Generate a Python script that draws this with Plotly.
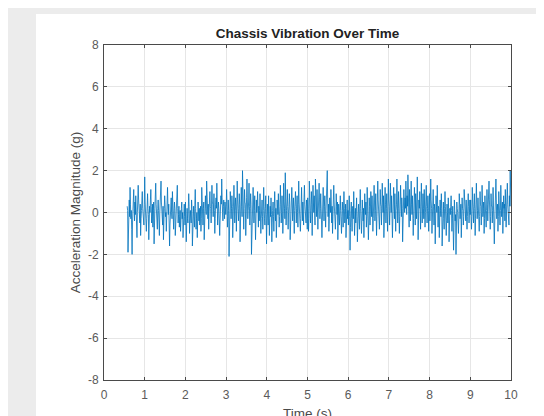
import numpy as np
import plotly.graph_objects as go

t_start = 0.57
t_end = 10.0

accel = [
    # 0.57 - 1.0 s
    0.3, 0.1, -1.9, -0.4, 0.2, 0.6, -0.2, 1.2, 0.4, -0.3, 0.1, -0.8, -2.0, -0.5, 0.3, 0.9, 1.1, 0.2, -0.4, 0.5,
    -0.1, 0.8, 0.3, -0.6, -1.2, 0.0, 0.4, 1.3, 0.6, -0.1, 0.2, -0.5, 0.4, -1.1, -0.3, 0.1, 0.7, 1.0, 0.2, -0.3,
    0.0, -0.6, 0.4,
    # 1 - 2 s
    1.7, 0.5, -0.2, 0.1, -0.9, -0.3, 0.4, 0.9, 0.2, -0.1, -1.3, -0.4, 0.3, 0.0, 0.6, 1.1, 0.3, -0.5, -0.2, 0.4,
    -0.7, 0.1, 0.5, -1.5, -0.6, 0.2, 0.8, 1.4, 0.4, -0.1, -0.4, -0.8, 0.2, 0.6, 0.1, -0.3, -1.1, 0.0, 0.7, 0.3,
    1.5, 0.5, -0.2, 0.1, -0.6, 0.3, -1.3, -0.5, 0.2, 0.8, 0.4, -0.2, 0.0, -0.9, -0.3, 0.5, 1.2, 0.3, -0.1, 0.4,
    -0.4, -1.6, -0.6, 0.1, 0.3, 0.7, 0.0, -0.3, 1.0, 0.4, -0.2, -0.8, 0.1, 0.5, 0.2, -1.1, -0.4, 0.3, -0.1, 0.6,
    1.3, 0.2, -0.5, -0.1, 0.3, -0.7, -0.2, 0.1, -0.9, -0.4, 0.2, 0.5, -0.3, 0.0, -1.2, -0.5, 0.1, 0.4, -0.2, -0.6,
    # 2 - 3 s
    0.5, -0.1, -1.4, -0.6, 0.2, -0.3, -0.5, 0.1, 0.9, 0.3, -1.0, -0.4, 0.1, -0.2, -0.5, 0.6, 0.2, -1.6, -0.7, 0.0,
    0.3, -0.2, -0.7, 0.4, 1.1, 0.2, -0.8, -0.3, 0.0, -1.2, -0.4, 0.5, 0.1, -0.4, 0.2, -0.6, -0.2, 0.3, -0.9, -0.3,
    1.2, 0.4, -0.1, -0.6, 0.2, 0.5, -1.3, -0.5, 0.3, 0.8, 0.2, -0.1, 1.5, 0.6, 0.1, -0.3, 0.4, -0.8, 0.0, 0.6,
    1.0, 0.3, 0.2, -0.5, 0.1, 1.3, 0.5, 0.4, -0.2, 0.3, 0.9, 0.1, -1.0, -0.3, 0.4, 0.7, 0.2, 1.4, 0.5, -0.6,
    0.1, 0.5, 0.2, -0.2, -1.1, -0.4, 0.3, 0.8, 0.4, 1.6, 0.7, 0.0, -0.4, 0.3, 0.6, 0.1, -0.3, 0.5, 0.2, -0.1,
    # 3 - 4 s
    0.3, 1.1, 0.4, -0.7, -0.2, 0.6, 0.1, -2.1, -0.8, 0.4, 1.0, 0.5, -0.3, 0.2, 0.8, 0.3, -1.2, -0.4, 0.2, 1.3,
    0.5, -0.5, 0.1, 0.7, 0.3, -0.9, -0.2, 1.5, 0.6, 0.3, -0.4, 0.2, 0.9, 0.4, -1.4, -0.5, 0.6, 1.2, 0.3, -0.2,
    2.0, 0.7, 0.0, -0.8, 0.2, 1.1, 0.5, 0.4, -1.1, -0.3, 0.7, 1.6, 0.6, -0.3, 0.1, 0.5, 1.4, 0.3, -0.6, 0.2,
    0.9, 0.4, -2.0, -0.7, 0.4, 0.1, 1.2, 0.5, -0.5, 0.1, 0.8, 0.2, -1.3, -0.4, 0.6, 0.0, 0.3, 1.0, 0.2, -0.7,
    0.3, -0.4, 0.1, 0.9, 0.2, -1.0, -0.3, 0.2, 0.6, -0.2, -0.8, 0.1, 1.2, 0.3, -0.3, -0.6, 0.2, 0.8, -0.1, -1.5,
    # 4 - 5 s
    -0.4, 0.4, 0.0, -0.6, 0.8, 0.1, -1.1, -0.3, 0.3, -0.2, 0.7, -0.1, -1.4, -0.5, 0.1, 0.5, -0.2, -0.9, 0.2, 1.0,
    0.3, -0.4, 0.2, -1.2, -0.5, 0.6, 0.0, -0.1, 0.9, 0.2, -0.7, -0.2, 0.3, 1.3, 0.4, -0.5, 0.0, 0.8, 0.1, -1.0,
    -0.3, 1.4, 0.5, 0.2, -0.3, 1.9, 0.6, -0.6, 0.1, 0.5, 1.1, 0.3, -0.8, 0.0, 0.3, 0.9, 0.4, -1.3, -0.4, 0.6,
    0.1, 1.2, 0.5, -0.4, 0.2, 0.7, -0.2, -1.0, 0.1, 0.4, 1.0, 0.3, -0.5, 0.2, 0.8, 0.0, -0.7, 0.4, 1.5, 0.5,
    -0.2, 0.3, -0.9, -0.3, 0.6, 1.2, 0.2, -0.4, 0.5, 0.1, -0.6, 0.7, 1.3, 0.4, -0.1, 0.2, -0.5, 0.6, 0.3, -0.8,
    # 5 - 6 s
    0.7, 0.2, -0.9, -0.3, 1.5, 0.6, 0.2, -0.5, 0.1, 1.0, 0.4, -1.1, -0.2, 1.3, 0.5, 0.0, 0.8, 0.3, -0.6, 1.6,
    0.7, 0.3, -0.2, 1.1, 0.4, -0.8, 0.0, 0.5, 1.4, 0.6, -0.3, 0.2, 0.9, 0.3, 0.1, -1.2, -0.4, 0.6, 1.2, 0.5,
    -0.4, 0.3, 0.8, 0.2, -0.7, 0.1, 1.0, 0.6, 2.0, 0.5, -0.2, 0.4, -0.9, -0.3, 0.7, 0.2, 0.0, 1.1, 0.4, -0.5,
    0.3, -1.0, -0.2, 0.6, 1.3, 0.5, -0.3, 0.2, -0.8, -0.1, 0.9, 0.3, -0.1, 0.5, -1.3, -0.4, 0.4, 0.0, -0.6, 0.3,
    0.8, 0.1, -0.4, -1.0, -0.2, 0.5, 0.1, -0.7, 0.3, 1.0, 0.2, -0.5, -0.1, 0.4, -1.2, -0.6, 0.2, 0.6, -0.3, 0.1,
    # 6 - 7 s
    -0.6, 0.3, 0.8, -0.2, -1.8, -0.7, 0.1, 0.5, -0.3, -0.9, 0.2, 0.3, -0.3, 1.0, 0.1, -1.1, -0.4, 0.2, -0.5, 0.0,
    0.7, -0.2, -1.4, -0.6, 0.0, 0.4, -0.3, -0.8, 0.3, 1.1, 0.2, -0.2, -1.0, -0.4, 0.6, 0.1, -0.4, 0.2, -1.2, -0.5,
    0.9, 0.3, -0.1, 0.5, -0.7, -0.2, 1.2, 0.4, 0.0, -1.3, -0.5, 0.7, 0.3, -0.6, 0.1, 1.0, 0.4, -0.2, 0.8, 0.2,
    -0.9, -0.3, 0.4, 1.3, 0.5, -0.4, 0.1, 0.9, 0.3, -1.1, -0.2, 0.6, 1.5, 0.6, -0.3, 0.2, -0.8, 0.0, 1.1, 0.4,
    0.3, -0.6, 0.2, 1.4, 0.5, 0.0, 0.8, -1.2, -0.3, 0.5, 1.2, 0.4, -0.5, 0.2, 0.9, 0.1, -0.9, 0.3, 1.6, 0.6,
    # 7 - 8 s
    0.3, -0.6, 0.1, 1.4, 0.5, 0.0, 0.8, 0.2, -1.2, -0.3, 0.5, 1.2, 0.4, -0.3, 0.9, 0.3, -0.9, 0.1, 0.4, 1.6,
    0.6, -0.5, 0.2, 1.0, 0.3, -1.0, -0.2, 0.6, 1.3, 0.4, -0.2, 0.7, 0.2, -1.4, -0.4, 0.3, 1.1, 0.5, 0.0, 0.7,
    0.2, 1.5, 0.6, -0.1, 0.8, 0.3, 1.8, 0.7, 0.1, -0.7, 1.1, 0.5, -0.4, 0.5, 1.5, 0.4, -0.1, 0.8, 0.2, -1.1,
    -0.3, 0.4, 1.2, 0.5, -0.6, 0.9, 0.2, -0.3, 0.6, 1.7, 0.5, -1.3, -0.4, 0.6, 0.2, 1.0, 0.3, -0.8, 0.3, 1.4,
    0.5, -0.5, 0.1, 0.9, 0.2, -0.3, 1.1, 0.4, -0.7, 0.0, 0.6, 1.3, 0.3, -0.5, 0.2, 0.8, 0.1, -0.9, 0.4, 0.9,
    # 8 - 9 s
    -0.4, 0.5, 1.6, 0.6, 0.2, -1.0, -0.2, 0.7, 1.1, 0.3, -0.6, 0.4, 0.1, -1.5, -0.5, 0.8, 0.3, 0.0, 1.3, 0.4,
    -0.7, 0.3, 0.2, -1.2, -0.3, 0.6, 0.1, -0.2, 0.9, 0.2, -1.6, -0.6, 0.1, 0.5, -0.3, -0.8, 0.2, 1.0, 0.3, -0.3,
    -1.1, -0.4, 0.4, 0.0, -0.5, 0.7, 0.2, -1.4, -0.5, 0.2, -0.1, 0.3, 0.8, 0.1, -0.9, -0.3, 0.3, -0.6, -1.8, -0.7,
    0.6, 0.1, -0.4, -0.1, -2.0, -0.8, 0.5, 0.2, 0.0, -0.6, -1.0, -0.3, 0.9, 0.4, -0.3, 0.1, 0.4, -1.2, -0.5, 0.7,
    0.2, 0.1, -0.6, -0.2, 1.1, 0.5, -0.2, 0.3, -0.4, 0.6, 0.1, -0.8, -0.2, 0.4, 0.9, 0.3, -0.5, 0.0, 0.6, -0.1,
    # 9 - 10 s
    0.6, 0.1, -0.8, -0.2, 1.2, 0.5, 0.1, -0.5, 0.3, 0.9, 0.2, -1.1, -0.3, 0.4, 1.4, 0.5, -0.3, 0.1, 0.7, 0.2,
    0.0, -0.9, -0.2, 1.0, 0.4, 0.3, -0.6, 0.0, 1.3, 0.5, -0.2, 0.2, 0.5, -1.0, -0.3, 0.8, 0.3, 0.2, -0.7, 0.1,
    1.1, 0.4, -0.4, 0.2, 0.6, 1.5, 0.6, -0.1, -0.8, -0.2, 0.9, 0.3, 0.3, -0.5, 0.1, 1.2, 0.4, 0.0, -1.5, -0.6,
    0.7, 0.2, 1.6, 0.6, -0.3, 0.1, 0.4, -0.9, -0.2, 1.0, 0.4, 0.2, -0.6, 0.1, 1.3, 0.5, -0.2, 0.3, 0.5, -1.0,
    -0.3, 0.8, 0.2, 0.4, -0.4, 1.1, 0.3, -0.7, 0.1, 0.6, 1.4, 0.4, -0.3, 0.2, -0.6, 0.8, 0.3, 2.0, 0.6, 0.3,
]
time = np.linspace(t_start, t_end, len(accel))

x_ticks = list(range(0, 11))
y_ticks = [-8, -6, -4, -2, 0, 2, 4, 6, 8]

title_text = "Chassis Vibration Over Time"
x_label = "Time (s)"
y_label = "Acceleration Magnitude (g)"

FONT = "Liberation Sans, Arial, Helvetica, sans-serif"
AX = "#4a4a4a"

fig = go.Figure()
fig.add_trace(go.Scatter(
    x=time, y=accel, mode="lines",
    line=dict(color="#0072BD", width=0.8),
    showlegend=False, hoverinfo="skip",
))

axis_common = dict(
    showline=True, linecolor=AX, linewidth=1, mirror="ticks",
    ticks="inside", ticklen=3, tickcolor=AX, tickwidth=1,
    showgrid=True, gridcolor="#e6e6e6", gridwidth=1,
    zeroline=False, automargin=False,
    tickfont=dict(family=FONT, size=12, color="#5a5a5a"),
)

# page body has an 8px default margin, so the figure is laid out shifted by (8, 8)
L, T, R, B = 96, 37, 41, 44
PW, PH = 544 - L - R, 416 - T - B

fig.update_layout(
    width=544, height=416,
    paper_bgcolor="#ececec", plot_bgcolor="white",
    margin=dict(l=L, r=R, t=T, b=B),
    title=dict(text="<b>" + title_text + "</b>", x=(L + PW / 2) / 544, xanchor="center",
               y=1 - 25 / 416, yanchor="middle",
               font=dict(family=FONT, size=13.5, color="#222222")),
    xaxis=dict(range=[0, 10], tickvals=x_ticks, ticktext=[str(v) for v in x_ticks],
               ticklabelstandoff=4,
               title=dict(text=x_label, standoff=7, font=dict(family=FONT, size=13.5, color="#4a4a4a")),
               **axis_common),
    yaxis=dict(range=[-8, 8], tickvals=y_ticks, ticktext=[str(v) for v in y_ticks],
               ticklabelstandoff=2,
               title=dict(text=y_label, standoff=4, font=dict(family=FONT, size=13.5, color="#4a4a4a")),
               **axis_common),
    shapes=[dict(type="rect", xref="paper", yref="paper", layer="below",
                 x0=-(L - 28) / PW, x1=1 + 60 / PW, y0=-60 / PH, y1=1 + (T - 6) / PH,
                 fillcolor="white", line=dict(width=0))],
)

fig.write_html("out.html")
